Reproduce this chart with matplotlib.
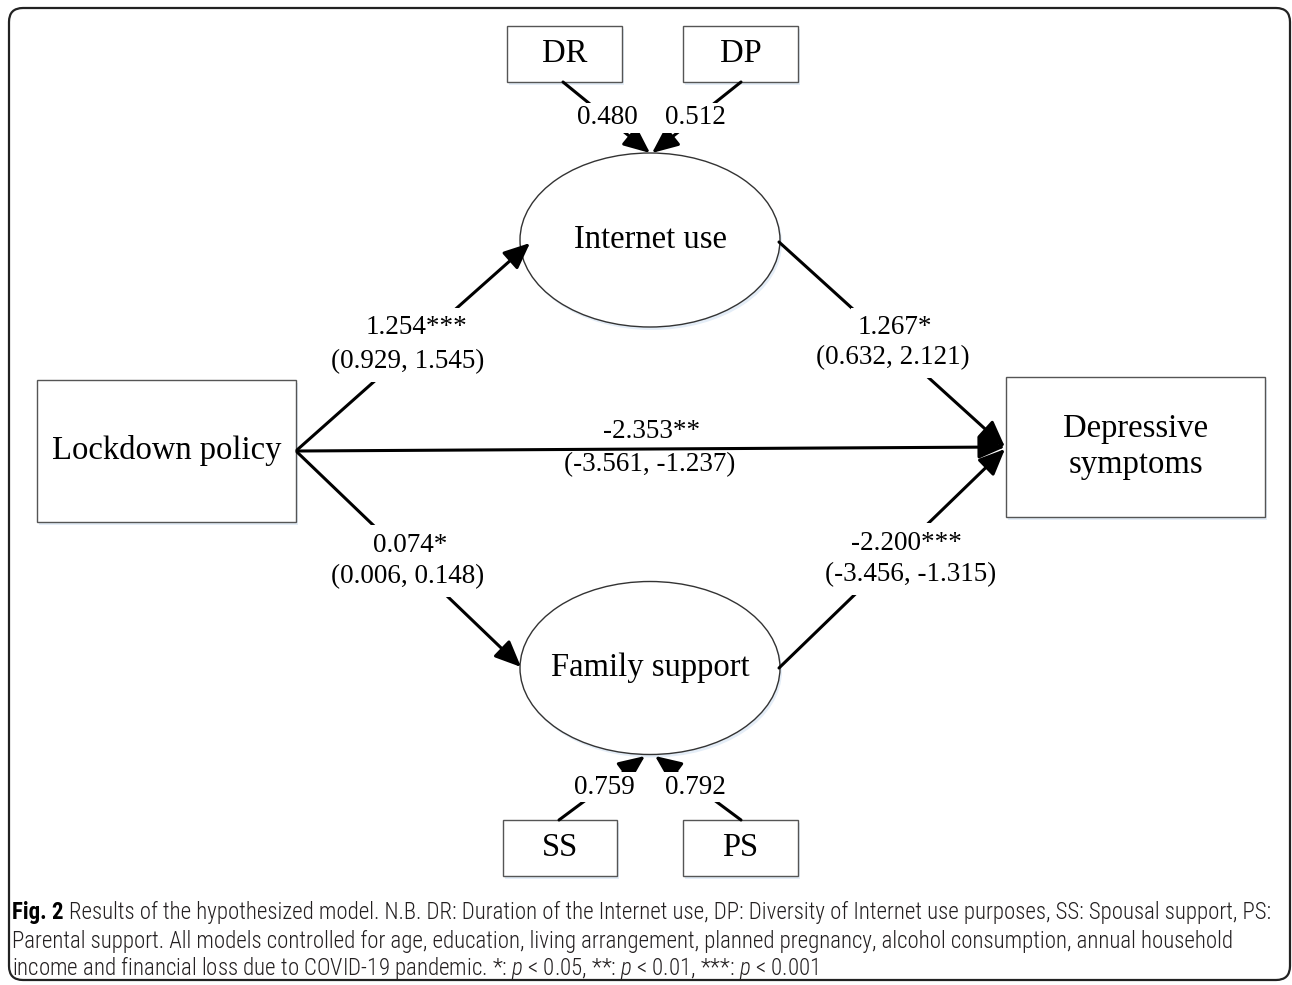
import matplotlib
matplotlib.use('Agg')
import matplotlib.pyplot as plt
from matplotlib.patches import Rectangle, Ellipse, FancyBboxPatch
from matplotlib import font_manager

# ---------------- data ----------------
box_nodes = ["Lockdown policy", "Depressive\nsymptoms", "DR", "DP", "SS", "PS"]
ellipse_nodes = ["Internet use", "Family support"]
loadings = ["0.480", "0.512", "0.759", "0.792"]
path_coefs = ["1.254***", "1.267*", "-2.353**", "0.074*", "-2.200***"]
path_cis = ["(0.929, 1.545)", "(0.632, 2.121)", "(-3.561, -1.237)",
            "(0.006, 0.148)", "(-3.456, -1.315)"]
caption_bold = "Fig. 2"
caption_lines = [
    "Results of the hypothesized model. N.B. DR: Duration of the Internet use, DP: Diversity of Internet use purposes, SS: Spousal support, PS:",
    "Parental support. All models controlled for age, education, living arrangement, planned pregnancy, alcohol consumption, annual household",
    "income and financial loss due to COVID-19 pandemic. *: $p$ < 0.05, **: $p$ < 0.01, ***: $p$ < 0.001",
]

# ---------------- layout (pixel coordinates) ----------------
box_layout = [(37, 380, 259, 142), (1006, 377, 259, 140), (507, 26, 115, 56),
              (683, 26, 115, 56), (503, 820, 114, 56), (683, 820, 115, 56)]
ellipse_layout = [(650, 240, 260, 174), (650, 668, 260, 173)]
loading_layout = [((563, 82), (650, 153), (607, 118)),
                  ((741, 82), (652, 153), (695, 118)),
                  ((559, 820), (645, 756), (604, 787)),
                  ((741, 820), (655, 756), (695, 787))]
path_layout = [((297, 450), (530, 243), (416, 328), (408, 362), True),
               ((779, 242), (1005, 447), (895, 328), (893, 358), True),
               ((297, 451), (1005, 447), (652, 432), (650, 465), False),
               ((297, 452), (521, 667), (410, 545), (408, 577), True),
               ((779, 668), (1005, 449), (906, 543), (911, 575), True)]

names = {f.name for f in font_manager.fontManager.ttflist}
serif = 'Liberation Serif' if 'Liberation Serif' in names else 'DejaVu Serif'
cap_font = 'Liberation Sans'
for cand in ['Liberation Sans Narrow', 'Roboto Condensed', 'Open Sans Condensed', 'Roboto']:
    if cand in names:
        cap_font = cand
        break
plt.rcParams['mathtext.fontset'] = 'custom'
plt.rcParams['mathtext.rm'] = cap_font + ':light'
plt.rcParams['mathtext.it'] = cap_font + ':italic:light'

W, H = 1292, 985
fig = plt.figure(figsize=(W / 100, H / 100), dpi=100)
ax = fig.add_axes([0, 0, 1, 1])
ax.set_xlim(0, W)
ax.set_ylim(H, 0)
ax.axis('off')

shadow = '#e4edf7'
node_fs = 23.5
num_fs = 19.5

# outer rounded frame
ax.add_patch(FancyBboxPatch((9, 8), 1281, 972, boxstyle="round,pad=0,rounding_size=14",
                            fill=False, ec='#222222', lw=1.6, zorder=1))

# boxes
for name, (x, y, w, h) in zip(box_nodes, box_layout):
    ax.add_patch(Rectangle((x + 2, y + 3), w, h, fc=shadow, ec='none', zorder=2))
    ax.add_patch(Rectangle((x, y), w, h, fc='white', ec='#555555', lw=1.0, zorder=3))
    ax.text(x + w / 2, y + h / 2, name, ha='center', va='center', family=serif,
            fontsize=node_fs, linespacing=1.25, zorder=4)

# ellipses
for name, (cx, cy, w, h) in zip(ellipse_nodes, ellipse_layout):
    ax.add_patch(Ellipse((cx + 2, cy + 3), w, h, fc=shadow, ec='none', zorder=2))
    ax.add_patch(Ellipse((cx, cy), w, h, fc='white', ec='#333333', lw=1.0, zorder=3))
    ax.text(cx, cy, name, ha='center', va='center', family=serif, fontsize=node_fs, zorder=4)

arrow_kw = dict(arrowstyle='-|>,head_length=0.8,head_width=0.35', color='black',
                lw=2.2, shrinkA=0, shrinkB=0, mutation_scale=20)

# loading arrows
for lab, (p0, p1, lp) in zip(loadings, loading_layout):
    ax.annotate('', xy=p1, xytext=p0, arrowprops=arrow_kw, zorder=5)
    ax.text(lp[0], lp[1], lab, ha='center', va='center', family=serif, fontsize=num_fs,
            zorder=6, bbox=dict(fc='white', ec='none', pad=1.5))

# structural paths
for coef, ci, (p0, p1, cp, ip, mask) in zip(path_coefs, path_cis, path_layout):
    ax.annotate('', xy=p1, xytext=p0, arrowprops=arrow_kw, zorder=5)
    bb = dict(fc='white', ec='none', pad=5) if mask else None
    ax.text(cp[0], cp[1], coef, ha='center', va='center', family=serif, fontsize=num_fs,
            zorder=6, bbox=bb)
    ax.text(ip[0], ip[1], ci, ha='center', va='center', family=serif, fontsize=num_fs,
            zorder=6, bbox=bb)

# caption
cap_fs = 15.5
cap_col = '#231f20'
ys = [924, 953, 982]
t0 = ax.text(12, ys[0], caption_bold, ha='left', va='bottom', family=cap_font,
             fontweight='bold', fontsize=cap_fs, color='black')
t1 = ax.annotate(caption_lines[0], xy=(1, 0), xycoords=t0, xytext=(4, 0),
                 textcoords='offset points', ha='left', va='bottom', family=cap_font,
                 fontweight='light', fontsize=cap_fs, color=cap_col)
cap_texts = [t0, t1]
for line, y in zip(caption_lines[1:], ys[1:]):
    cap_texts.append(ax.text(12, y, line, ha='left', va='bottom', family=cap_font,
                             fontweight='light', fontsize=cap_fs, color=cap_col))

# fit caption width to the frame (first line should end near x=1268)
r = fig.canvas.get_renderer()
for _ in range(3):
    fig.canvas.draw()
    right = t1.get_window_extent(r).x1
    scale = (1268 - 12) / (right - 12)
    cap_fs *= scale
    for t in cap_texts:
        t.set_fontsize(cap_fs)

fig.savefig('out.png', dpi=100)
